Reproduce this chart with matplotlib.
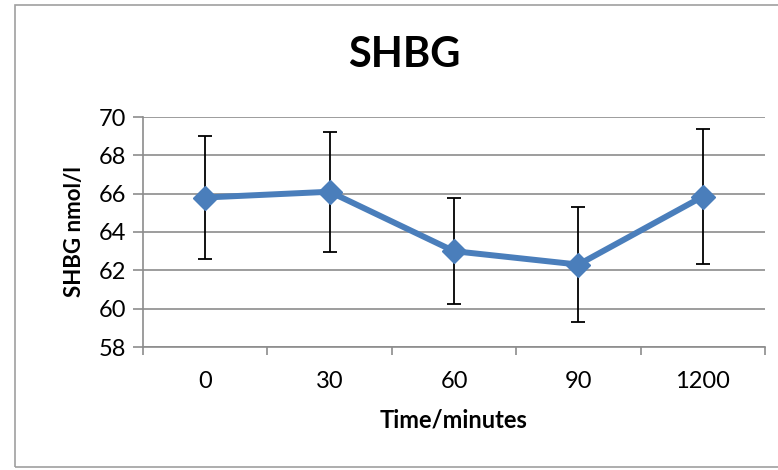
import numpy as np
import matplotlib.pyplot as plt
from matplotlib.patches import Rectangle

categories = ['0', '30', '60', '90', '1200']
shbg = [65.8, 66.1, 63.0, 62.3, 65.85]
err = [3.2, 3.13, 2.75, 2.98, 3.52]

plt.rcParams['font.family'] = ['Lato', 'DejaVu Sans']

fig = plt.figure(figsize=(7.78, 4.70), dpi=100)
ax = fig.add_axes([143 / 778, 1 - 347 / 470, (765 - 143) / 778, (347 - 117) / 470])

# chart border
fig.patches.append(Rectangle((15 / 778, 3 / 470), 770 / 778, 462 / 470, transform=fig.transFigure,
                             fill=False, edgecolor='#a0a0a0', linewidth=1.2))

x = np.arange(len(categories))
ax.errorbar(x, shbg, yerr=err, fmt='none', ecolor='black', elinewidth=1.3, capsize=5, capthick=1.3, zorder=3)
ax.plot(x, shbg, color='#4a7ebb', linewidth=4.3, marker='D', markersize=12, zorder=4)

ax.set_xlim(-0.5, len(categories) - 0.5)
ax.set_ylim(58, 70)
ax.set_yticks(np.arange(58, 71, 2))
ax.yaxis.grid(True, color='#8c8c8c', linewidth=1.2)
ax.set_axisbelow(True)

ax.set_xticks(x)
ax.set_xticklabels(categories)
ax.set_xticks(np.arange(-0.5, len(categories), 1), minor=True)
ax.tick_params(axis='x', which='major', length=0, pad=17, labelsize=17)
ax.tick_params(axis='x', which='minor', length=6, width=1.2, color='#8c8c8c', direction='out')
ax.tick_params(axis='y', length=7, width=1.2, color='#8c8c8c', labelsize=17, pad=5)

for s in ['top', 'right']:
    ax.spines[s].set_visible(False)
ax.spines['left'].set_color('#8c8c8c')
ax.spines['bottom'].set_color('#8c8c8c')
ax.spines['left'].set_linewidth(1.2)
ax.spines['bottom'].set_linewidth(1.2)

ax.set_xlabel('Time/minutes', fontsize=17, fontweight='bold', labelpad=12)
ax.set_ylabel('SHBG nmol/l', fontsize=16, fontweight='bold', labelpad=10)
fig.text(404 / 778, 1 - 55 / 470, 'SHBG', fontsize=30, fontweight='bold', ha='center', va='center')

fig.savefig('out.png', dpi=100)
